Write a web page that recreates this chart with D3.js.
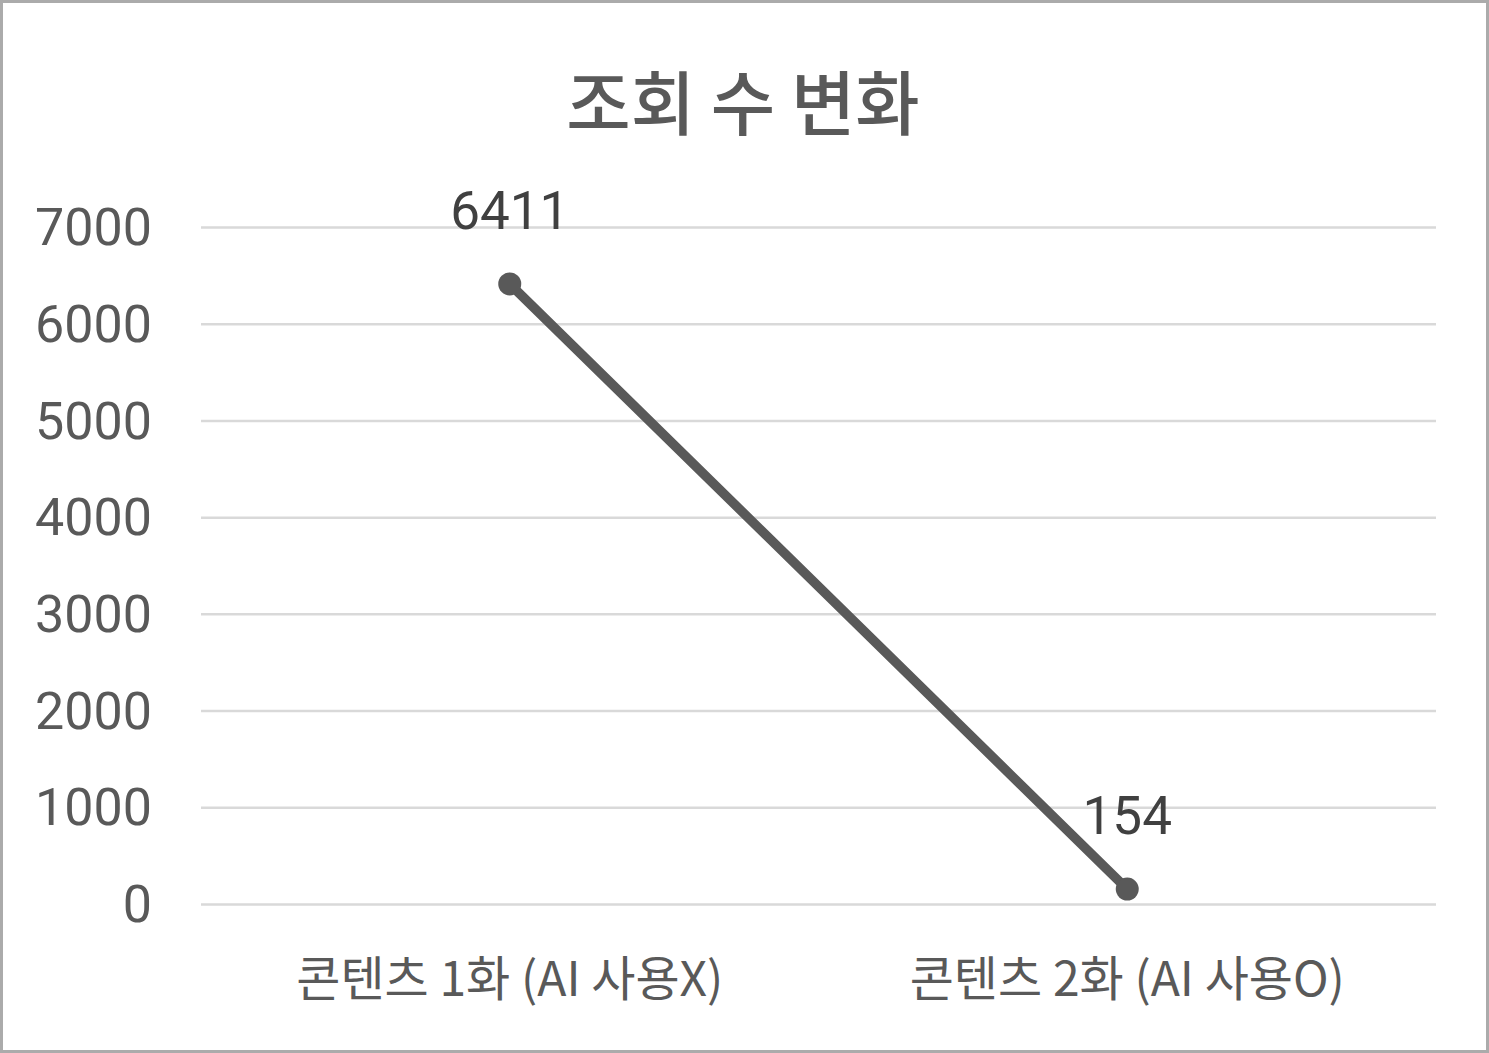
<!DOCTYPE html>
<html><head><meta charset="utf-8">
<script src="https://cdn.jsdelivr.net/npm/d3@7"></script>
<style>html,body{margin:0;padding:0;background:#fff;}svg{display:block;}</style>
</head><body>
<svg id="c" width="1489" height="1053"></svg>
<script>
const categories = ["콘텐츠 1화 (AI 사용X)", "콘텐츠 2화 (AI 사용O)"];
const values = [6411, 154];
const yTicks = [0, 1000, 2000, 3000, 4000, 5000, 6000, 7000];
const title = "조회 수 변화";

const svg = d3.select("#c");
const W = 1489, H = 1053;
svg.append("rect").attr("x",1.5).attr("y",1.5).attr("width",W-3).attr("height",H-3)
  .attr("fill","#fff").attr("stroke","#ababab").attr("stroke-width",3);

const m = {left:201, right:1436, top:227, bottom:904};
const x = d3.scaleBand().domain(categories).range([m.left, m.right]);
const y = d3.scaleLinear().domain([0,7000]).range([m.bottom, m.top]);
const font = "Roboto, 'Noto Sans CJK KR', sans-serif";
const kfont = "'Noto Sans CJK KR', Roboto, sans-serif";

// gridlines
const gy = svg.append("g").attr("transform",`translate(${m.left},0)`)
  .call(d3.axisLeft(y).tickValues(yTicks).tickSize(-(m.right-m.left)).tickFormat(d=>d).tickPadding(49));
gy.select(".domain").remove();
gy.selectAll(".tick line").attr("stroke","#d9d9d9").attr("stroke-width",2.5);
gy.selectAll(".tick text").attr("fill","#595959").attr("font-size",52).attr("font-family",font)
  .attr("dy","0.34em");

// x labels
const gx = svg.append("g").attr("transform",`translate(0,${m.bottom})`)
  .call(d3.axisBottom(x).tickSize(0).tickPadding(58));
gx.select(".domain").remove();
gx.selectAll(".tick text").attr("fill","#595959").attr("font-size",48).attr("font-family",kfont);

// line
const cx = d => x(d) + x.bandwidth()/2;
const pts = categories.map((c,i)=>({c, v:values[i]}));
svg.append("path").datum(pts)
  .attr("d", d3.line().x(d=>cx(d.c)).y(d=>y(d.v)))
  .attr("fill","none").attr("stroke","#595959").attr("stroke-width",9.5).attr("stroke-linecap","round");
svg.selectAll("circle.pt").data(pts).join("circle")
  .attr("cx",d=>cx(d.c)).attr("cy",d=>y(d.v)).attr("r",11.5).attr("fill","#595959");
svg.selectAll("text.lbl").data(pts).join("text")
  .attr("x",d=>cx(d.c)).attr("y",d=>y(d.v)-55).attr("text-anchor","middle")
  .attr("fill","#404040").attr("font-size",53).attr("font-family",font).text(d=>d.v);

svg.append("text").attr("x",743).attr("y",130).attr("text-anchor","middle")
  .attr("fill","#595959").attr("font-size",70).attr("font-weight",500).attr("font-family",kfont).text(title);
</script>
</body></html>
